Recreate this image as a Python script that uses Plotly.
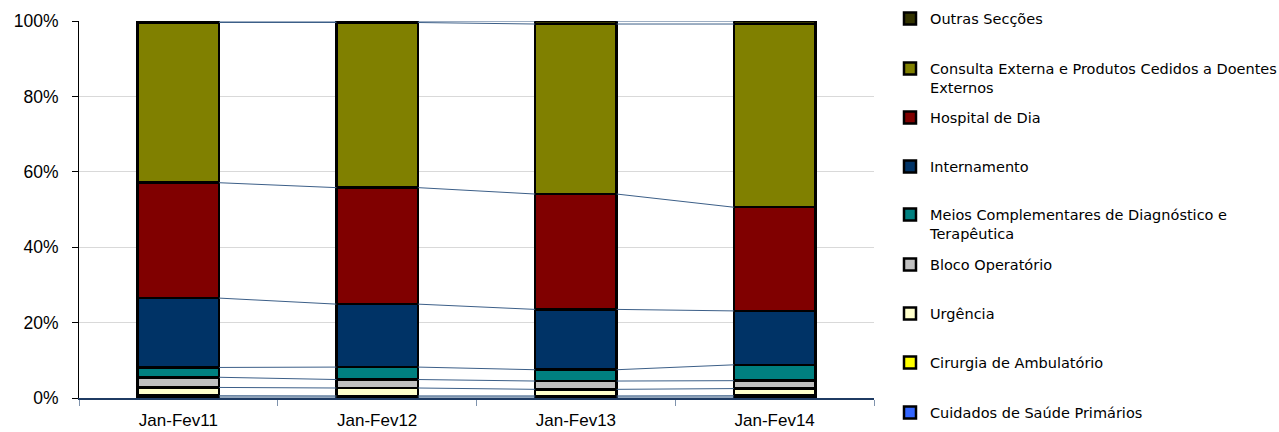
import plotly.graph_objects as go

# ---------------- data ----------------
categories = ["Jan-Fev11", "Jan-Fev12", "Jan-Fev13", "Jan-Fev14"]

# series from bottom of stack to top (percent of total)
cuidados = [0.25, 0.25, 0.25, 0.25]
cirurgia = [0.35, 0.30, 0.30, 0.35]
urgencia = [2.2, 2.1, 1.75, 1.9]
bloco = [2.7, 2.25, 2.2, 2.1]
mcdt = [2.6, 3.3, 3.0, 4.2]
internamento = [18.4, 16.7, 16.0, 14.3]
hospital_dia = [30.6, 30.9, 30.6, 27.5]
consulta = [42.5, 43.8, 45.1, 48.6]
outras = [0.4, 0.4, 0.8, 0.8]

series_names = [
    "Cuidados de Saúde Primários",
    "Cirurgia de Ambulatório",
    "Urgência",
    "Bloco Operatório",
    "Meios Complementares de Diagnóstico e<br>Terapêutica",
    "Internamento",
    "Hospital de Dia",
    "Consulta Externa e Produtos Cedidos a Doentes<br>Externos",
    "Outras Secções",
]
series_values = [cuidados, cirurgia, urgencia, bloco, mcdt,
                 internamento, hospital_dia, consulta, outras]
series_colors = ["#3366FF", "#FFFF00", "#FFFFCC", "#C0C0C0", "#008080",
                 "#003366", "#800000", "#808000", "#333300"]

y_ticks = [0, 20, 40, 60, 80, 100]
y_tick_labels = [f"{v}%" for v in y_ticks]

# ---------------- figure ----------------
W, H = 1279, 432
BAR_W = 0.41
xpos = list(range(len(categories)))

fig = go.Figure()

# legend vertical centres (px from top), top item first
legend_centers = [18, 68, 117, 166, 214, 264, 313, 362, 412]
n = len(series_names)

for k, (name, vals, col) in enumerate(zip(series_names, series_values, series_colors)):
    lg_index = n - k  # top series -> legend 1
    lg = "legend" if lg_index == 1 else f"legend{lg_index}"
    fig.add_trace(go.Bar(
        x=xpos, y=vals, name=name, width=BAR_W,
        marker=dict(color=col, line=dict(color="#000000", width=2.5)),
        legend=lg,
        hovertemplate="%{y:.1f}%<extra>" + name.replace("<br>", " ") + "</extra>",
    ))

# series lines connecting cumulative boundaries between bars
cum = []
running = [0.0] * len(categories)
for vals in series_values:
    running = [r + v for r, v in zip(running, vals)]
    cum.append(list(running))

lx, ly = [], []
for c in cum:
    for i in range(len(categories) - 1):
        lx += [xpos[i] + BAR_W / 2, xpos[i + 1] - BAR_W / 2, None]
        ly += [c[i], c[i + 1], None]
fig.add_trace(go.Scatter(x=lx, y=ly, mode="lines",
                         line=dict(color="#3c5f88", width=1),
                         showlegend=False, hoverinfo="skip"))

LEG_FONT = "DejaVu Sans"
AX_FONT = "Liberation Sans"
layout_legends = {}
for j, yc in enumerate(legend_centers):
    key = "legend" if j == 0 else f"legend{j + 1}"
    layout_legends[key] = dict(
        xref="container", yref="container",
        x=890 / W, y=1 - (yc - 15.5) / H,
        xanchor="left", yanchor="top",
        bgcolor="rgba(0,0,0,0)", borderwidth=0,
        font=dict(family=LEG_FONT, size=14.5, color="#000000"),
        valign="top", itemclick=False, itemdoubleclick=False,
    )

fig.update_layout(
    width=W, height=H,
    barmode="stack",
    plot_bgcolor="#FFFFFF", paper_bgcolor="#FFFFFF",
    margin=dict(l=79, r=W - 874, t=21, b=34, autoexpand=False),
    font=dict(family=AX_FONT, size=17, color="#000000"),
    **layout_legends,
)

fig.update_xaxes(
    range=[-0.5, len(categories) - 0.5],
    tickmode="array", tickvals=xpos, ticktext=categories,
    ticks="", showgrid=False, zeroline=False,
    showline=True, linecolor="#1f3b63", linewidth=1.5,
    ticklabelstandoff=6,
    tickfont=dict(family=AX_FONT, size=17, color="#000000"),
    minor=dict(ticks="outside", tick0=0.5, dtick=1, ticklen=6,
               tickcolor="#7f93ad", tickwidth=1, showgrid=False),
)
fig.update_yaxes(
    range=[0, 100],
    tickmode="array", tickvals=y_ticks, ticktext=y_tick_labels,
    showgrid=True, gridcolor="#d9d9d9", gridwidth=1,
    zeroline=False,
    showline=True, linecolor="#000000", linewidth=1,
    ticks="outside", ticklen=6, tickcolor="#000000",
    ticklabelstandoff=10,
    tickfont=dict(family=AX_FONT, size=17.5, color="#000000"),
)

fig.write_html("out.html")
